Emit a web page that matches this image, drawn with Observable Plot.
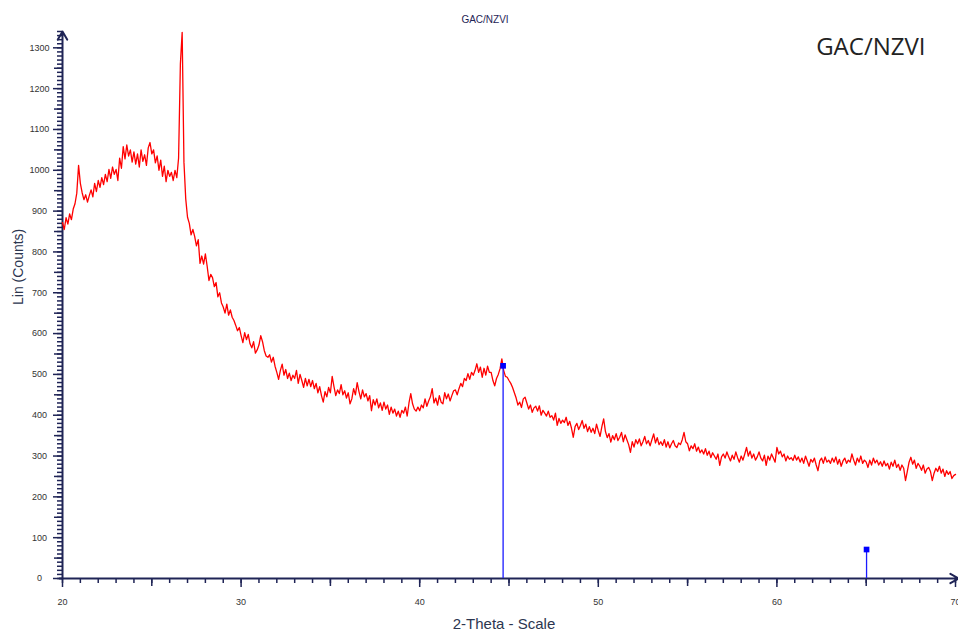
<!DOCTYPE html>
<html><head><meta charset="utf-8">
<script src="https://cdn.jsdelivr.net/npm/d3@7"></script>
<script src="https://cdn.jsdelivr.net/npm/@observablehq/plot@0.6"></script>
<style>body{margin:0;background:#fff}#chart svg{display:block}</style>
</head><body><div id="chart"></div>
<script>
// 2-theta grid start and step (degrees)
const twoThetaStart = 20;
const twoThetaStep = 0.1;

// Lin (Counts), one row per degree
const counts20to30 = [
  872, 855, 884, 868, 893, 879, 905, 918, 944, 1012,
  968, 945, 928, 940, 922, 938, 952, 935, 968, 948,
  975, 958, 982, 965, 990, 972, 1002, 980, 1008, 990,
  1002, 975, 1030, 1005, 1058, 1028, 1062, 1035, 1050, 1020,
  1045, 1015, 1040, 1008, 1050, 1022, 1038, 1012, 1055, 1068,
  1040, 1050, 1018, 1035, 1000, 1025, 985, 1010, 972, 1000,
  985, 995, 975, 1000, 982, 1030, 1260, 1338, 1020, 930,
  885, 870, 842, 855, 838, 815, 830, 772, 790, 770,
  795, 765, 730, 745, 737, 715, 725, 690, 700, 675,
  665, 650, 672, 645, 658, 640, 632, 620, 607, 615
];
const counts30to40 = [
  595, 578, 602, 585, 598, 575, 565, 580, 552, 560,
  572, 595, 580, 558, 545, 542, 548, 530, 542, 520,
  505, 488, 510, 525, 498, 512, 490, 503, 485, 498,
  490, 510, 478, 500, 485, 468, 490, 472, 488, 470,
  485, 465, 478, 455, 470, 448, 432, 458, 445, 468,
  455, 495, 470, 448, 462, 453, 475, 450, 460, 442,
  455, 428, 440, 465, 450, 480, 458, 440, 462, 445,
  453, 435, 448, 411, 438, 425, 440, 418, 430, 412,
  432, 415, 425, 402, 420, 405, 415, 398, 410, 395,
  412, 405, 420, 398, 430, 453, 428, 415, 410, 420
];
const counts40to50 = [
  411, 425, 418, 440, 422, 435, 445, 465, 430, 442,
  425, 448, 432, 428, 455, 440, 452, 435, 448, 460,
  462, 450, 465, 478, 470, 490, 485, 502, 488, 505,
  498, 510, 526, 505, 518, 493, 515, 498, 520, 505,
  505, 485, 472, 490, 500, 514, 538, 510, 495, 493,
  485, 478, 468, 455, 442, 425, 432, 419, 440, 444,
  430, 415, 425, 407, 418, 422, 410, 423, 400, 412,
  405, 398, 410, 395, 399, 388, 405, 375, 392, 380,
  388, 382, 395, 375, 385, 368, 346, 372, 380, 365,
  375, 387, 368, 378, 360, 372, 358, 368, 355, 378
];
const counts50to60 = [
  362, 348, 372, 391, 360, 345, 355, 334, 350, 340,
  355, 338, 346, 358, 335, 352, 340, 328, 309, 335,
  322, 340, 330, 342, 325, 335, 348, 330, 338, 325,
  340, 354, 332, 345, 328, 335, 326, 340, 322, 335,
  320, 330, 338, 325, 321, 332, 328, 340, 358, 335,
  330, 313, 325, 318, 330, 312, 322, 308, 315, 305,
  318, 302, 312, 296, 308, 300, 292, 305, 277, 298,
  305, 295, 310, 298, 288, 302, 292, 310, 296, 285,
  300, 290, 305, 321, 300, 312, 295, 305, 290, 298,
  310, 295, 288, 302, 277, 300, 290, 305, 295, 285
];
const counts60to70 = [
  321, 305, 312, 298, 305, 288, 300, 292, 296, 289,
  302, 290, 298, 285, 295, 282, 300, 288, 275, 292,
  285, 295, 278, 264, 288, 295, 282, 298, 285, 290,
  282, 295, 285, 298, 280, 292, 275, 288, 295, 282,
  290, 285, 305, 290, 278, 295, 285, 300, 282, 290,
  285, 272, 290, 278, 295, 283, 290, 278, 286, 275,
  288, 276, 282, 268, 285, 275, 290, 272, 280, 265,
  278, 270, 240, 262, 285, 297, 280, 290, 270, 282,
  275, 265, 278, 258, 268, 272, 262, 240, 258, 270,
  262, 275, 258, 268, 250, 264, 255, 262, 245, 252,
  255
];

// reference (Fe) lines
const refTheta = [44.67, 65.02];
const refCounts = [521, 71];

// axis ticks
const xLabelTicks = [20, 30, 40, 50, 60, 70];
const yLabelTicks = [0, 100, 200, 300, 400, 500, 600, 700, 800, 900, 1000, 1100, 1200, 1300];

const counts = [...counts20to30, ...counts30to40, ...counts40to50, ...counts50to60, ...counts60to70];
const pattern = counts.map((c, i) => ({theta: +(twoThetaStart + i * twoThetaStep).toFixed(2), c}));
const refs = refTheta.map((t, i) => ({theta: t, c: refCounts[i]}));

const navy = "#1f2456";
const xMinor = d3.range(20, 71, 1);
const xMid = d3.range(25, 70, 10);
const yMinor = d3.range(0, 1341, 10);
const yMid = d3.range(50, 1341, 100);

const chart = Plot.plot({
  width: 958,
  height: 638,
  marginLeft: 62,
  marginRight: 3,
  marginTop: 31,
  marginBottom: 60,
  style: {fontFamily: "'Liberation Sans', Arial, sans-serif", fontSize: "9px", background: "#fff"},
  x: {domain: [20, 70]},
  y: {domain: [0, 1340]},
  marks: [
    Plot.axisX(xMinor, {tickSize: 5, tickFormat: () => "", label: null, stroke: navy, strokeWidth: 1.5}),
    Plot.axisX(xMid, {tickSize: 8, tickFormat: () => "", label: null, stroke: navy, strokeWidth: 1.5}),
    Plot.axisX(xLabelTicks, {tickSize: 9, tickPadding: 11, tickFormat: d => String(d), label: null, stroke: navy, strokeWidth: 1.5, fill: "#333", fontSize: 9}),
    Plot.axisY(yMinor, {tickSize: 5, tickFormat: () => "", label: null, stroke: navy, strokeWidth: 1.5}),
    Plot.axisY(yMid, {tickSize: 8, tickFormat: () => "", label: null, stroke: navy, strokeWidth: 1.5}),
    Plot.axisY(yLabelTicks, {tickSize: 9, tickPadding: 14, textAnchor: "middle", tickFormat: d => String(d), label: null, stroke: navy, strokeWidth: 1.5, fill: "#333", fontSize: 9}),
    Plot.arrow([{x1: 20, y1: 0, x2: 70, y2: 0}], {x1: "x1", y1: "y1", x2: "x2", y2: "y2", stroke: navy, strokeWidth: 2, headLength: 7, inset: -3}),
    Plot.arrow([{x1: 20, y1: 0, x2: 20, y2: 1340}], {x1: "x1", y1: "y1", x2: "x2", y2: "y2", stroke: navy, strokeWidth: 2, headLength: 7, inset: 0}),
    Plot.line(pattern, {x: "theta", y: "c", stroke: "#ff0000", strokeWidth: 1.3}),
    Plot.ruleX(refs, {x: "theta", y1: 0, y2: "c", stroke: "#1a1aff", strokeWidth: 1.3}),
    Plot.dot(refs, {x: "theta", y: "c", symbol: "square", r: 3.2, fill: "#0000ff", stroke: null}),
    Plot.text(["GAC/NZVI"], {frameAnchor: "top", dx: -24, dy: -16, fontSize: 10, fill: navy, fontFamily: "'Liberation Sans', Arial, sans-serif"}),
    Plot.text(["GAC/NZVI"], {frameAnchor: "top-right", textAnchor: "end", lineAnchor: "middle", dx: -30, dy: 16, fontSize: 24, fill: "#222", fontFamily: "'Open Sans', sans-serif"}),
    Plot.text(["Lin (Counts)"], {frameAnchor: "left", rotate: -90, dx: -44, fontSize: 14, fill: "#2c3650", fontFamily: "'Liberation Sans', Arial, sans-serif"}),
    Plot.text(["2-Theta - Scale"], {frameAnchor: "bottom", dx: -5, dy: 50, fontSize: 15, fill: "#2c3650", fontFamily: "'Liberation Sans', Arial, sans-serif"})
  ]
});
document.getElementById("chart").appendChild(chart);
</script>
</body></html>
